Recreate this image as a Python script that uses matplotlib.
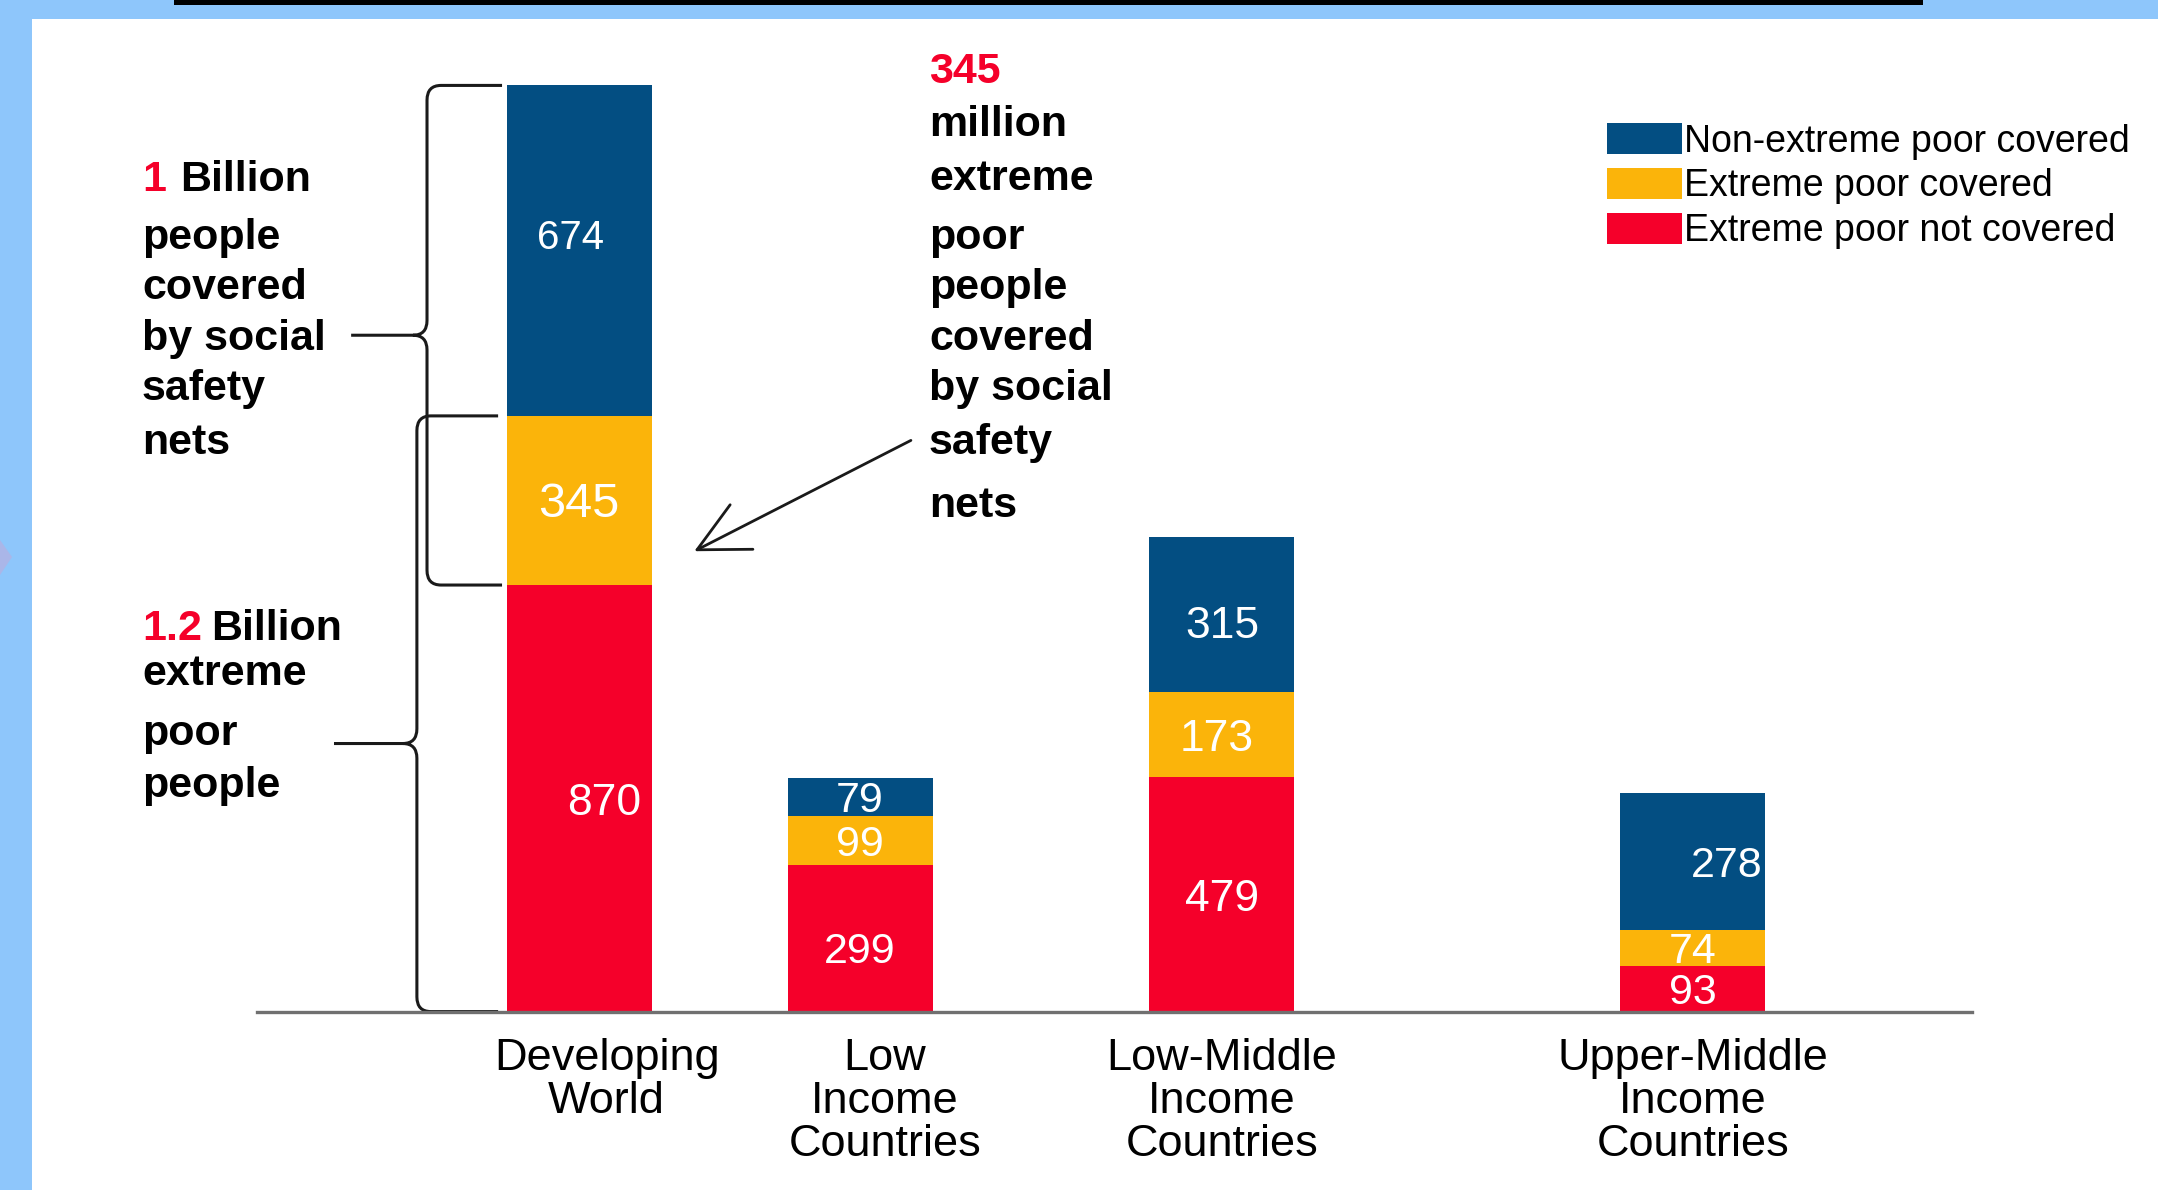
import matplotlib.pyplot as plt
from matplotlib.patches import Rectangle, Polygon, PathPatch
from matplotlib.path import Path

plt.rcParams['font.family'] = ['Liberation Sans', 'DejaVu Sans']

# data (millions of people)
categories = ['Developing\nWorld', 'Low\nIncome\nCountries',
              'Low-Middle\nIncome\nCountries', 'Upper-Middle\nIncome\nCountries']
not_covered = [870, 299, 479, 93]
extreme_covered = [345, 99, 173, 74]
non_extreme_covered = [674, 79, 315, 278]
series_names = ['Non-extreme poor covered', 'Extreme poor covered',
                'Extreme poor not covered']

BLUE = '#034E82'
YELLOW = '#FBB40A'
RED = '#F5002A'
SKY = '#8EC6FB'
INK = '#1a1a1a'

W, H = 2158, 1190
fig = plt.figure(figsize=(W / 100, H / 100), dpi=100, facecolor=SKY)


def fx(px):
    return px / W


def fy(py):
    return 1 - py / H


# slide background pieces (behind the axes)
fig.patches.append(Rectangle((fx(32), 0), 1 - fx(32), fy(19), transform=fig.transFigure,
                             facecolor='white', edgecolor='none', zorder=-5))
fig.patches.append(Rectangle((fx(174), fy(5)), fx(1923) - fx(174), 1 - fy(5),
                             transform=fig.transFigure, facecolor='black', edgecolor='none',
                             zorder=-5))
fig.patches.append(Polygon([(0, fy(540)), (fx(12), fy(557)), (0, fy(575))], closed=True,
                           transform=fig.transFigure, facecolor='#AAB6E8', edgecolor='none',
                           zorder=-5))

ax = fig.add_axes([fx(257), fy(1011.6), fx(1972) - fx(257), fy(31) - fy(1011.6)])
ax.set_facecolor('none')
ax.set_xlim(-1.146, 4.957)
ax.set_ylim(0, 2000)
for s in ['top', 'left', 'right']:
    ax.spines[s].set_visible(False)
ax.spines['bottom'].set_color('#707070')
ax.spines['bottom'].set_linewidth(2.4)
ax.set_xticks([])
ax.set_yticks([])

pos = [0, 1, 2.288, 3.964]
width = 0.516
mid_base = [a + b for a, b in zip(not_covered, extreme_covered)]

b_red = ax.bar(pos, not_covered, width, color=RED, label=series_names[2])
b_yel = ax.bar(pos, extreme_covered, width, bottom=not_covered, color=YELLOW,
               label=series_names[1])
b_blu = ax.bar(pos, non_extreme_covered, width, bottom=mid_base, color=BLUE,
               label=series_names[0])

# value labels inside segments (x offset, y offset, size)
tweaks = {(0, 2): (-0.03, 26, 29), (0, 1): (0, -8, 35), (0, 0): (0.09, -10, 32),
          (3, 2): (0.12, -10, 31), (1, 0): (0, -28, 31), (2, 2): (0, -24, 32),
          (2, 1): (-0.02, -10, 32), (2, 0): (0, -10, 32)}
stacks = [(not_covered, [0] * 4), (extreme_covered, not_covered),
          (non_extreme_covered, mid_base)]
for k, (vals, bots) in enumerate(stacks):
    for i, (v, b) in enumerate(zip(vals, bots)):
        dx, dy, fs = tweaks.get((i, k), (0, -8, 31))
        ax.text(pos[i] + dx, b + v / 2 + dy, str(v), color='white', fontsize=fs,
                ha='center', va='center')

# category labels
label_dx = [0.098, 0.088, 0, 0]
for i, lab in enumerate(categories):
    ax.annotate(lab, xy=(pos[i] + label_dx[i], 0), xytext=(0, -19),
                textcoords='offset points', ha='center', va='top',
                fontsize=32.5, linespacing=1.07, annotation_clip=False)

# legend
ax.legend(handles=[b_blu, b_yel, b_red], loc='upper left',
          bbox_to_anchor=(fx(1607), fy(123)), bbox_transform=fig.transFigure,
          frameon=False, fontsize=27, handlelength=2.0, handleheight=0.9,
          handletextpad=0.05, labelspacing=0.22, borderpad=0, borderaxespad=0)


# curly braces next to the first bar
def brace(x_end, x_v, x_tip, y_top, y_bot, frac):
    rx, ry = 0.05, 30
    y_mid = y_bot + frac * (y_top - y_bot)
    verts = [(x_end, y_top), (x_v + rx, y_top), (x_v, y_top), (x_v, y_top - ry),
             (x_v, y_mid + ry), (x_v, y_mid), (x_v - rx, y_mid), (x_tip, y_mid),
             (x_v - rx, y_mid), (x_v, y_mid), (x_v, y_mid - ry),
             (x_v, y_bot + ry), (x_v, y_bot), (x_v + rx, y_bot), (x_end, y_bot)]
    codes = [Path.MOVETO, Path.LINETO, Path.CURVE3, Path.CURVE3,
             Path.LINETO, Path.CURVE3, Path.CURVE3, Path.LINETO,
             Path.MOVETO, Path.CURVE3, Path.CURVE3,
             Path.LINETO, Path.CURVE3, Path.CURVE3, Path.LINETO]
    ax.add_patch(PathPatch(Path(verts, codes), facecolor='none', edgecolor=INK,
                           lw=2.2, clip_on=False))


total0 = not_covered[0] + extreme_covered[0] + non_extreme_covered[0]
brace(-0.274, -0.541, -0.811, total0, not_covered[0], 0.5)
brace(-0.288, -0.577, -0.872, mid_base[0], 0, 0.45)

# arrow to the yellow segment
ax.annotate('', xy=(pos[0] + 0.41, not_covered[0] + 0.2 * extreme_covered[0]),
            xytext=(1.181, 1165),
            arrowprops=dict(arrowstyle='->,head_length=0.9,head_width=0.45',
                            lw=2.0, color=INK, mutation_scale=40, shrinkA=0, shrinkB=0),
            annotation_clip=False)

# side notes
bold = dict(fontsize=31, fontweight='bold', va='baseline', ha='left')
fig.text(fx(142), fy(191), '1', color=RED, **bold)
fig.text(fx(180), fy(191), 'Billion', color='black', **bold)
for txt, y in [('people', 249), ('covered', 299), ('by social', 350),
               ('safety', 400), ('nets', 454)]:
    fig.text(fx(142), fy(y), txt, color='black', **bold)

fig.text(fx(142), fy(640), '1.2', color=RED, **bold)
fig.text(fx(211), fy(640), 'Billion', color='black', **bold)
for txt, y in [('extreme', 685), ('poor', 745), ('people', 797)]:
    fig.text(fx(142), fy(y), txt, color='black', **bold)

fig.text(fx(929), fy(83), '345', color=RED, **bold)
for txt, y in [('million', 136), ('extreme', 190), ('poor', 249), ('people', 299),
               ('covered', 350), ('by social', 400), ('safety', 454), ('nets', 517)]:
    fig.text(fx(929), fy(y), txt, color='black', **bold)

fig.savefig('out.png', dpi=100, facecolor=SKY)
